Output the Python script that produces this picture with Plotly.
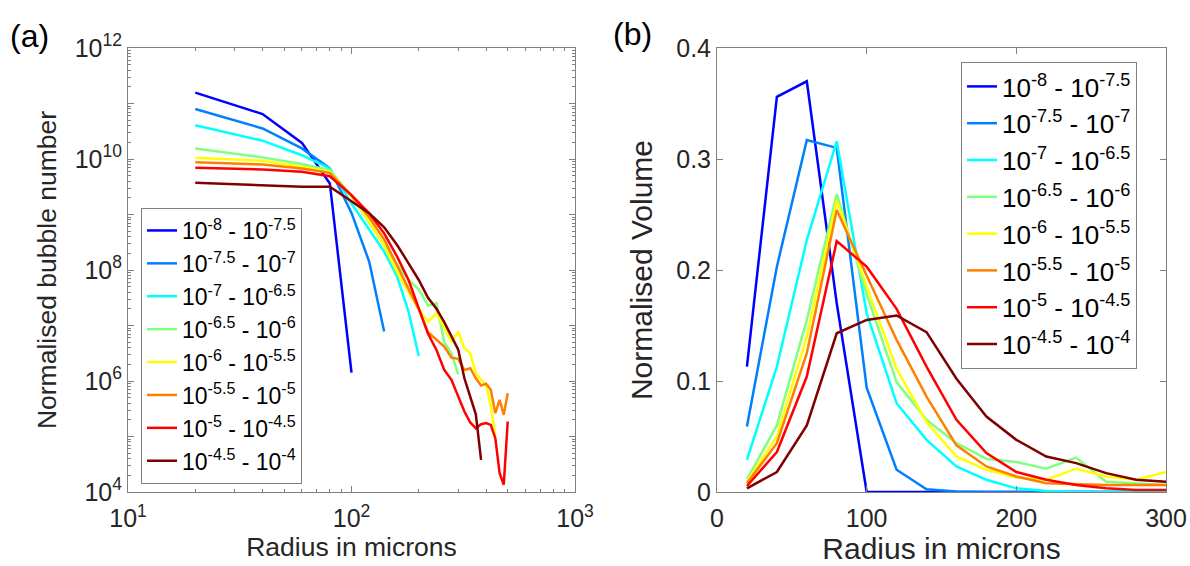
import plotly.graph_objects as go

# ---------------- data ----------------
series_labels = [
    "10<sup>-8</sup> - 10<sup>-7.5</sup>",
    "10<sup>-7.5</sup> - 10<sup>-7</sup>",
    "10<sup>-7</sup> - 10<sup>-6.5</sup>",
    "10<sup>-6.5</sup> - 10<sup>-6</sup>",
    "10<sup>-6</sup> - 10<sup>-5.5</sup>",
    "10<sup>-5.5</sup> - 10<sup>-5</sup>",
    "10<sup>-5</sup> - 10<sup>-4.5</sup>",
    "10<sup>-4.5</sup> - 10<sup>-4</sup>",
]
series_colors = ["#0000ff", "#0080ff", "#00ffff", "#80ff80",
                 "#ffff00", "#ff8000", "#ff0000", "#800000"]

# (a) normalised bubble number vs radius (microns)
radius_num_1 = [20, 40, 60, 80, 100]
number_1 = [1.57e11, 6.46e10, 1.95e10, 3.63e9, 1.41e6]
radius_num_2 = [20, 40, 60, 80, 100, 120, 140]
number_2 = [7.94e10, 3.55e10, 1.55e10, 6.76e9, 1.07e9, 1.41e8, 7.76e6]
radius_num_3 = [20, 40, 60, 80, 100, 120, 140, 160, 180, 200]
number_3 = [4.05e10, 2.14e10, 1.17e10, 6.76e9, 1.58e9, 5.25e8, 2.14e8,
            7.59e7, 1.78e7, 2.82e6]
radius_num_4 = [20, 40, 60, 80, 100, 120, 140, 160, 180, 200, 220, 240,
                260, 280, 300]
number_4 = [1.55e10, 1.07e10, 8.13e9, 6.31e9, 2.14e9, 6.92e8, 2.82e8,
            1.26e8, 6.61e7, 4.47e7, 2.29e7, 2.51e7, 5.01e6, 3.16e6, 1.32e6]
radius_num_5 = [20, 40, 60, 80, 100, 120, 140, 160, 180, 200, 220, 240,
                260, 280, 300, 320, 340, 360, 380, 400, 420, 440]
number_5 = [1.05e10, 9.33e9, 7.24e9, 5.89e9, 2.14e9, 7.41e8, 2.69e8,
            9.12e7, 3.98e7, 1.95e7, 1.17e7, 1.66e7, 9.33e6, 5.01e6,
            7.76e6, 3.89e6, 3.16e6, 1.38e6, 1.05e6, 8.51e5, 3.55e5, 1.0e5]
radius_num_6 = [20, 40, 60, 80, 100, 120, 140, 160, 180, 200, 220, 240,
                260, 280, 300, 320, 340, 360, 380, 400, 420, 440, 460,
                480, 500]
number_6 = [8.71e9, 7.94e9, 6.76e9, 5.62e9, 2.19e9, 8.91e8, 3.55e8,
            1.17e8, 4.47e7, 1.95e7, 7.59e6, 5.62e6, 4.17e6, 2.63e6,
            2.51e6, 1.58e6, 1.70e6, 1.12e6, 8.32e5, 8.91e5, 6.92e5,
            2.63e5, 4.57e5, 2.45e5, 6.03e5]
radius_num_7 = [20, 40, 60, 80, 100, 120, 140, 160, 180, 200, 220, 240,
                260, 280, 300, 320, 340, 360, 380, 400, 420, 440, 460,
                480, 500]
number_7 = [6.92e9, 6.46e9, 5.89e9, 4.90e9, 2.24e9, 1.05e9, 4.57e8,
            1.74e8, 6.61e7, 2.14e7, 7.08e6, 3.63e6, 1.58e6, 1.05e6,
            5.25e5, 2.82e5, 1.78e5, 1.41e5, 1.66e5, 1.74e5, 1.62e5,
            9.33e4, 2.19e4, 1.35e4, 1.86e5]
radius_num_8 = [20, 40, 60, 80, 100, 120, 140, 160, 180, 200, 220, 240,
                260, 280, 300, 320, 340, 360, 380]
number_8 = [3.72e9, 3.31e9, 3.16e9, 3.16e9, 1.74e9, 1.05e9, 5.89e8,
            2.82e8, 1.32e8, 6.61e7, 3.16e7, 2.00e7, 1.15e7, 6.31e6,
            3.72e6, 1.12e6, 5.25e5, 2.51e5, 3.80e4]

radius_num = [radius_num_1, radius_num_2, radius_num_3, radius_num_4,
              radius_num_5, radius_num_6, radius_num_7, radius_num_8]
numbers = [number_1, number_2, number_3, number_4,
           number_5, number_6, number_7, number_8]

# (b) normalised volume vs radius (microns)
radius_vol = [20, 40, 60, 80, 100, 120, 140, 160, 180, 200, 220, 240, 260, 280, 300]
volume_1 = [0.113, 0.356, 0.370, 0.170, 0, 0, 0, 0, 0, 0, 0, 0, 0, 0, 0]
volume_2 = [0.059, 0.203, 0.317, 0.310, 0.094, 0.020, 0.0024, 0.0005,
            0, 0, 0, 0, 0, 0, 0]
volume_3 = [0.029, 0.113, 0.227, 0.316, 0.161, 0.080, 0.047, 0.023, 0.011,
            0.0033, 0.001, 0, 0, 0, 0]
volume_4 = [0.0114, 0.060, 0.155, 0.2685, 0.178, 0.099, 0.065, 0.044, 0.030,
            0.027, 0.021, 0.031, 0.0093, 0.0078, 0.0063]
volume_5 = [0.0093, 0.050, 0.140, 0.263, 0.185, 0.111, 0.063, 0.032, 0.020,
            0.013, 0.011, 0.021, 0.014, 0.011, 0.018]
volume_6 = [0.0078, 0.044, 0.125, 0.254, 0.195, 0.137, 0.086, 0.042, 0.023,
            0.014, 0.0078, 0.0069, 0.0063, 0.0063, 0.0063]
volume_7 = [0.0054, 0.036, 0.104, 0.226, 0.203, 0.165, 0.113, 0.065, 0.035,
            0.018, 0.011, 0.0063, 0.0033, 0.0018, 0.0018]
volume_8 = [0.0033, 0.018, 0.060, 0.143, 0.155, 0.159, 0.144, 0.102, 0.068,
            0.047, 0.032, 0.026, 0.017, 0.011, 0.0093]
volumes = [volume_1, volume_2, volume_3, volume_4,
           volume_5, volume_6, volume_7, volume_8]

# tick labels
num_tickvals = [1e4, 1e5, 1e6, 1e7, 1e8, 1e9, 1e10, 1e11, 1e12]
num_ticktext = ["10<sup>4</sup>", "", "10<sup>6</sup>", "", "10<sup>8</sup>", "",
                "10<sup>10</sup>", "", "10<sup>12</sup>"]
rad_tickvals = [10, 100, 1000]
rad_ticktext = ["10<sup>1</sup>", "10<sup>2</sup>", "10<sup>3</sup>"]

# ---------------- figure ----------------
W, H = 1190, 566
FONT = "Liberation Sans, Arial, Helvetica, sans-serif"
AXC = "#808080"
TXT = "#262626"
LW = 2.5

fig = go.Figure()
for i in range(8):
    fig.add_trace(go.Scatter(
        x=radius_num[i], y=numbers[i], mode="lines",
        line=dict(color=series_colors[i], width=LW),
        name=series_labels[i], xaxis="x", yaxis="y",
        legend="legend", legendgroup="a%d" % i))
for i in range(8):
    fig.add_trace(go.Scatter(
        x=radius_vol, y=volumes[i], mode="lines",
        line=dict(color=series_colors[i], width=LW),
        name=series_labels[i], xaxis="x2", yaxis="y2",
        legend="legend2", legendgroup="b%d" % i))

minor_x = [k * 10 ** e for e in (1, 2) for k in range(2, 10)]
minor_y = [k * 10 ** e for e in range(4, 12) for k in range(2, 10)]

ydom = [1 - 492 / H, 1 - 48 / H]
common = dict(showline=True, linecolor=AXC, linewidth=1, mirror="ticks",
              ticks="inside", tickcolor=AXC, tickwidth=1, showgrid=False,
              zeroline=False, automargin=False,
              tickfont=dict(family=FONT, size=25, color=TXT))

fig.update_layout(
    width=W, height=H, margin=dict(l=0, r=0, t=0, b=0),
    paper_bgcolor="white", plot_bgcolor="white",
    font=dict(family=FONT, color=TXT),
    xaxis=dict(domain=[128 / W, 575 / W], type="log", range=[1, 3],
               tickmode="array", tickvals=rad_tickvals, ticktext=rad_ticktext,
               ticklen=6, anchor="y", ticklabelstandoff=4,
               minor=dict(tickmode="array", tickvals=minor_x, ticks="inside",
                          ticklen=3, tickcolor=AXC),
               title=dict(text="Radius in microns",
                          font=dict(family=FONT, size=26.5, color=TXT), standoff=6),
               **common),
    yaxis=dict(domain=ydom, type="log", range=[4, 12],
               tickmode="array", tickvals=num_tickvals, ticktext=num_ticktext,
               ticklen=6, anchor="x",
               minor=dict(tickmode="array", tickvals=minor_y, ticks="inside",
                          ticklen=3, tickcolor=AXC),
               title=dict(text="Normalised bubble number",
                          font=dict(family=FONT, size=26.5, color=TXT), standoff=10),
               **common),
    xaxis2=dict(domain=[717 / W, 1166 / W], range=[0, 300],
                tickmode="array", tickvals=[0, 100, 200, 300], ticklen=6,
                anchor="y2", ticklabelstandoff=4,
                title=dict(text="Radius in microns",
                           font=dict(family=FONT, size=30, color=TXT), standoff=4),
                **common),
    yaxis2=dict(domain=ydom, range=[0, 0.4],
                tickmode="array", tickvals=[0, 0.1, 0.2, 0.3, 0.4],
                ticktext=["0", "0.1", "0.2", "0.3", "0.4"], ticklen=6,
                anchor="x2",
                title=dict(text="Normalised Volume",
                           font=dict(family=FONT, size=30, color=TXT), standoff=14),
                **common),
    legend=dict(x=141 / W, y=1 - 208 / H, xanchor="left", yanchor="top",
                bgcolor="white", bordercolor=AXC, borderwidth=1,
                font=dict(family=FONT, size=23, color="black"),
                tracegroupgap=0, itemwidth=30),
    legend2=dict(x=961 / W, y=1 - 62 / H, xanchor="left", yanchor="top",
                 bgcolor="white", bordercolor=AXC, borderwidth=1,
                 font=dict(family=FONT, size=26, color="black"),
                 tracegroupgap=0, itemwidth=30),
    showlegend=True,
)

fig.add_annotation(text="(a)", x=8 / W, y=1 - 16 / H, xref="paper", yref="paper",
                   xanchor="left", yanchor="top", showarrow=False,
                   font=dict(family=FONT, size=32, color="black"))
fig.add_annotation(text="(b)", x=611 / W, y=1 - 14 / H, xref="paper", yref="paper",
                   xanchor="left", yanchor="top", showarrow=False,
                   font=dict(family=FONT, size=32, color="black"))

fig.write_html("out.html")
